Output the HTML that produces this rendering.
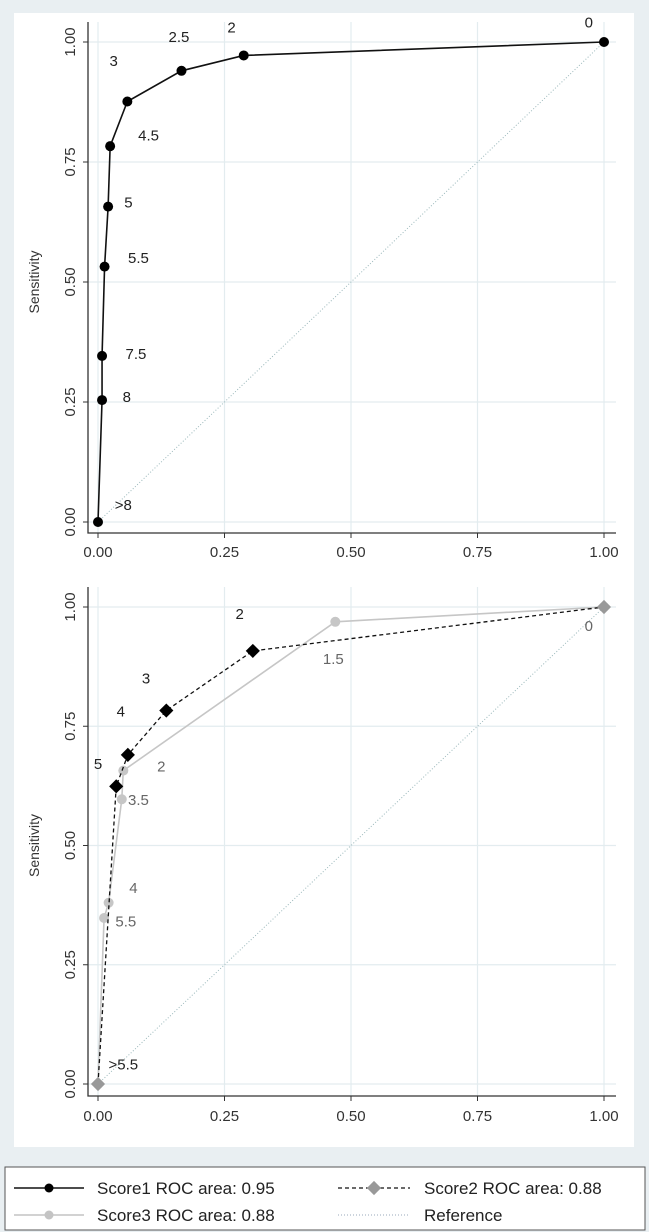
<!DOCTYPE html>
<html><head><meta charset="utf-8">
<style>
html,body{margin:0;padding:0;background:#e9eff2;}
svg{display:block;font-family:"Liberation Sans",sans-serif;}
</style></head>
<body>
<svg id="chart" width="649" height="1232" viewBox="0 0 649 1232" xmlns="http://www.w3.org/2000/svg">
<rect x="0" y="0" width="649" height="1160" fill="#e9eff2"/>
<rect x="14" y="13" width="620" height="1134" fill="#ffffff"/>
<g id="top"></g>
<g id="bottom"></g>
<g>
  <rect x="5" y="1167" width="640" height="63" fill="#fff" stroke="#555" stroke-width="1"/>
  <g>
    <line x1="14" y1="1188" x2="84" y2="1188" stroke="#111" stroke-width="1.5"/>
    <circle cx="49" cy="1188" r="4.5" fill="#000"/>
    <text x="97" y="1194" font-size="17" fill="#222">Score1 ROC area: 0.95</text>
  </g>
  <g>
    <line x1="338" y1="1188" x2="410" y2="1188" stroke="#111" stroke-width="1.3" stroke-dasharray="4,3"/>
    <rect x="369" y="1183" width="10" height="10" fill="#999" transform="rotate(45 374 1188)"/>
    <text x="424" y="1194" font-size="17" fill="#222">Score2 ROC area: 0.88</text>
  </g>
  <g>
    <line x1="14" y1="1215" x2="84" y2="1215" stroke="#c4c4c4" stroke-width="1.5"/>
    <circle cx="49" cy="1215" r="4.5" fill="#c4c4c4"/>
    <text x="97" y="1221" font-size="17" fill="#222">Score3 ROC area: 0.88</text>
  </g>
  <g>
    <line x1="338" y1="1215" x2="410" y2="1215" stroke="#9ab" stroke-width="1" stroke-dasharray="1,2"/>
    <text x="424" y="1221" font-size="17" fill="#222">Reference</text>
  </g>
</g>
</svg>
<script>
const ticks = [0, 0.25, 0.5, 0.75, 1];
const tickLabels = ["0.00", "0.25", "0.50", "0.75", "1.00"];
const s1x = [0, 0.008, 0.008, 0.013, 0.02, 0.024, 0.058, 0.165, 0.288, 1];
const s1y = [0, 0.254, 0.346, 0.532, 0.657, 0.783, 0.876, 0.94, 0.972, 1];
const s1Labels = [">8", "8", "7.5", "5.5", "5", "4.5", "3", "2.5", "2", "0"];
const s1LabelPos = [[0.05,0.025],[0.057,0.25],[0.075,0.34],[0.08,0.54],[0.06,0.655],[0.1,0.795],[0.031,0.95],[0.16,1.0],[0.264,1.02],[0.97,1.03]];
const s2x = [0, 0.036, 0.059, 0.135, 0.306, 1];
const s2y = [0, 0.624, 0.69, 0.783, 0.908, 1];
const s2Labels = [">5.5", "5", "4", "3", "2"];
const s2LabelPos = [[0.05,0.03],[0.0,0.66],[0.045,0.77],[0.095,0.84],[0.28,0.975]];
const s3x = [0, 0.012, 0.021, 0.047, 0.05, 0.469, 1];
const s3y = [0, 0.348, 0.38, 0.597, 0.657, 0.969, 1];
const s3Labels = ["5.5", "4", "3.5", "2", "1.5", "0"];
const s3LabelPos = [[0.055,0.33],[0.07,0.4],[0.08,0.585],[0.125,0.655],[0.465,0.88],[0.97,0.95]];

const NS = "http://www.w3.org/2000/svg";
function mk(tag, attrs, parent){const e=document.createElementNS(NS,tag);for(const k in attrs)e.setAttribute(k,attrs[k]);parent.appendChild(e);return e;}

function panel(g, y0, y1, axisBottom, tickY){
  const X = v => 98 + v*(604-98);
  const Y = v => y0 + v*(y1-y0);
  ticks.forEach((t,i)=>{
    const gl = mk("line",{x1:X(t),x2:X(t),y1:Y(1)-20,y2:axisBottom,stroke:"#e3ecef","stroke-width":1.2},g);
    
    
    const gh = mk("line",{x1:88,x2:616,y1:Y(t),y2:Y(t),stroke:"#e3ecef","stroke-width":1.2},g);
    
    
  });
  const ax = mk("path",{d:`M88 ${Y(1)-20} V${axisBottom} H616`,fill:"none",stroke:"#333","stroke-width":1.3},g);
  
  
  ticks.forEach((t,i)=>{
    mk("line",{x1:X(t),x2:X(t),y1:axisBottom,y2:axisBottom+5,stroke:"#333"},g);
    mk("line",{x1:83,x2:88,y1:Y(t),y2:Y(t),stroke:"#333"},g);
    const tx = mk("text",{x:X(t),y:tickY,"font-size":15,"text-anchor":"middle",fill:"#333"},g);
    tx.textContent = tickLabels[i];
    
    
    const ty = mk("text",{x:0,y:0,"font-size":15,"text-anchor":"middle",fill:"#333",transform:`translate(75 ${Y(t)}) rotate(-90)`},g);
    ty.textContent = tickLabels[i];
    
    
  });
  const yt = mk("text",{x:0,y:0,"font-size":14,"text-anchor":"middle",fill:"#333",transform:`translate(39 ${Y(0.5)}) rotate(-90)`},g);
  yt.textContent = "Sensitivity";
  
  
  const ref = mk("line",{x1:X(0),y1:Y(0),x2:X(1),y2:Y(1),stroke:"#9bb8bb","stroke-width":1,"stroke-dasharray":"1,2"},g);
  
  
  return {X,Y};
}

function series(g, A, xs, ys, opts, name){
  const pts = xs.map((x,i)=>A.X(x)+","+A.Y(ys[i])).join(" ");
  const pl = mk("polyline",{points:pts,fill:"none",stroke:opts.color,"stroke-width":opts.w||1.5,"stroke-dasharray":opts.dash||"none"},g);
  
  
  xs.forEach((x,i)=>{
    let m;
    if(opts.marker==="diamond"){
      const cx=A.X(x), cy=A.Y(ys[i]);
      m = mk("rect",{x:cx-5,y:cy-5,width:10,height:10,fill:(i===0||i===xs.length-1)?"#999":opts.mcolor,transform:`rotate(45 ${cx} ${cy})`},g);
    } else {
      m = mk("circle",{cx:A.X(x),cy:A.Y(ys[i]),r:opts.r||5,fill:opts.mcolor},g);
    }
    
    
  });
}
function labels(g, A, texts, pos, color, name){
  texts.forEach((t,i)=>{
    const e = mk("text",{x:A.X(pos[i][0]),y:A.Y(pos[i][1]),"font-size":15,"text-anchor":"middle",fill:color},g);
    e.textContent = t;
    
    
  });
}

const gt = document.getElementById("top");
const A1 = panel(gt, 522, 42, 533, 557);
series(gt, A1, s1x, s1y, {color:"#111", mcolor:"#000", w:1.6, r:5}, "score1");
labels(gt, A1, s1Labels, s1LabelPos, "#222", "score1");

const gb = document.getElementById("bottom");
const A2 = panel(gb, 1084, 607, 1096, 1121);
series(gb, A2, s3x, s3y, {color:"#c6c6c6", mcolor:"#c6c6c6", w:1.6, r:5}, "score3");
series(gb, A2, s2x, s2y, {color:"#111", mcolor:"#000", w:1.3, dash:"4,3", marker:"diamond"}, "score2");
labels(gb, A2, s2Labels, s2LabelPos, "#222", "score2");
labels(gb, A2, s3Labels, s3LabelPos, "#666", "score3");
</script>
</body></html>
